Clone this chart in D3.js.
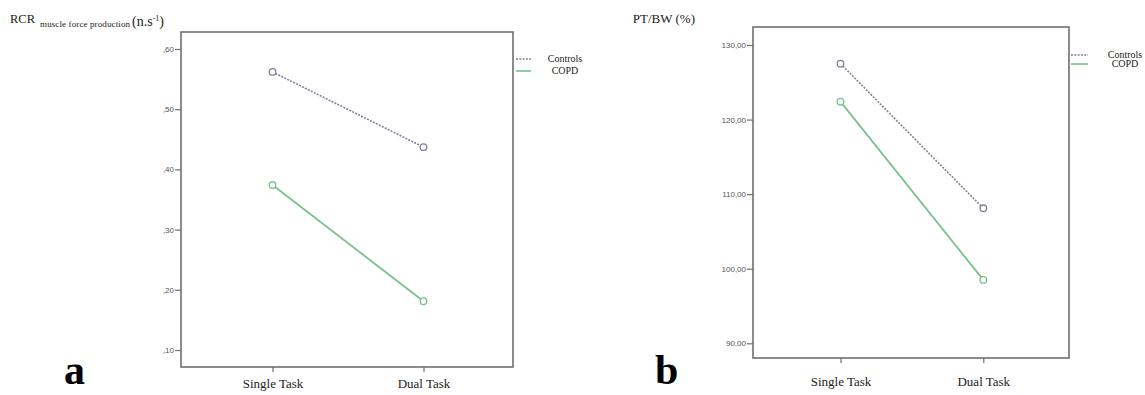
<!DOCTYPE html>
<html>
<head>
<meta charset="utf-8">
<script src="https://cdn.jsdelivr.net/npm/d3@7"></script>
<style>
  html, body { margin: 0; padding: 0; background: #fff; }
  svg { display: block; }
</style>
</head>
<body>
<svg id="chart" width="1145" height="395"></svg>
<script>
// ---------------- data ----------------
const categories = ["Single Task", "Dual Task"];
const seriesNames = ["Controls", "COPD"];

// panel a: RCR muscle force production (n.s-1)
const rcrControls = [0.562, 0.437];
const rcrCOPD = [0.374, 0.181];
const rcrTicks = [0.10, 0.20, 0.30, 0.40, 0.50, 0.60];

// panel b: PT/BW (%)
const ptControls = [127.5, 108.1];
const ptCOPD = [122.4, 98.5];
const ptTicks = [90, 100, 110, 120, 130];

// ---------------- styles ----------------
const serif = "'Liberation Serif', 'DejaVu Serif', serif";
const sans = "'Liberation Sans', Arial, sans-serif";
const frameColor = "#6f6f6f";
const colControls = "#80809a";
const colCOPD = "#7cc08f";

const svg = d3.select("#chart");

function drawPanel(cfg) {
  const g = svg.append("g");
  const x = d3.scalePoint().domain(categories).range(cfg.xRange);
  const y = d3.scaleLinear().domain(cfg.yDomain).range(cfg.yRange);

  // frame
  g.append("rect")
    .attr("x", cfg.frame.left).attr("y", cfg.frame.top)
    .attr("width", cfg.frame.right - cfg.frame.left)
    .attr("height", cfg.frame.bottom - cfg.frame.top)
    .attr("fill", "none").attr("stroke", frameColor).attr("stroke-width", 1.6);

  // y axis
  const yAxis = d3.axisLeft(y).tickValues(cfg.ticks).tickSize(6).tickPadding(1)
    .tickFormat(cfg.fmt);
  const ya = g.append("g").attr("transform", `translate(${cfg.frame.left},0)`).call(yAxis);
  ya.select(".domain").remove();
  ya.selectAll(".tick line").attr("stroke", frameColor).attr("stroke-width", 1.2);
  ya.selectAll(".tick text").attr("fill", "#555").style("font-family", sans)
    .style("font-size", "8px");

  // x axis
  const xAxis = d3.axisBottom(x).tickSize(5).tickPadding(cfg.xPad);
  const xa = g.append("g").attr("transform", `translate(0,${cfg.frame.bottom})`).call(xAxis);
  xa.select(".domain").remove();
  xa.selectAll(".tick line").attr("stroke", frameColor).attr("stroke-width", 1.2);
  xa.selectAll(".tick text").attr("fill", "#222").style("font-family", serif)
    .style("font-size", "13px");

  // series
  const series = [
    { name: seriesNames[0], vals: cfg.controls, color: colControls, dash: "2,1.3" },
    { name: seriesNames[1], vals: cfg.copd, color: colCOPD, dash: null }
  ];
  const line = d3.line().x(d => x(d.c)).y(d => y(d.v));
  series.forEach(s => {
    const pts = categories.map((c, i) => ({ c, v: s.vals[i] }));
    g.append("path").datum(pts)
      .attr("d", line).attr("fill", "none")
      .attr("stroke", s.color).attr("stroke-width", s.dash ? 1.6 : 1.8)
      .attr("stroke-dasharray", s.dash);
    g.selectAll(null).data(pts).enter().append("circle")
      .attr("cx", d => x(d.c)).attr("cy", d => y(d.v)).attr("r", 3.3)
      .attr("fill", "#fff").attr("stroke", s.color).attr("stroke-width", 1.3);
  });

  // legend
  const lg = g.append("g");
  series.forEach((s, i) => {
    const ly = cfg.legend.y[i];
    lg.append("line")
      .attr("x1", cfg.legend.x1).attr("x2", cfg.legend.x2)
      .attr("y1", ly).attr("y2", ly)
      .attr("stroke", s.color).attr("stroke-width", 1.6)
      .attr("stroke-dasharray", s.dash);
    lg.append("text")
      .attr("x", cfg.legend.tx).attr("y", ly + 3)
      .attr("text-anchor", "middle")
      .style("font-family", serif).style("font-size", "10px")
      .attr("fill", "#222").text(s.name);
  });

  // panel letter
  g.append("text").attr("x", cfg.letter.x).attr("y", cfg.letter.y)
    .style("font-family", serif).style("font-size", "42px").style("font-weight", "bold")
    .attr("fill", "#000").text(cfg.letter.text);
  return g;
}

const fmtA = v => d3.format(".2f")(v).replace(/^0\./, ",");
const fmtB = v => d3.format(".2f")(v).replace(".", ",");

const gA = drawPanel({
  frame: { left: 181, right: 513, top: 32, bottom: 367 },
  xRange: [272.5, 423.5],
  yDomain: [0.10, 0.60], yRange: [350, 49],
  ticks: rcrTicks, fmt: fmtA,
  controls: rcrControls, copd: rcrCOPD,
  xPad: 7,
  legend: { x1: 516, x2: 531, y: [59, 71], tx: 565 },
  letter: { x: 64, y: 384, text: "a" }
});

const gB = drawPanel({
  frame: { left: 753, right: 1069, top: 27, bottom: 358 },
  xRange: [840.5, 983.3],
  yDomain: [90, 130], yRange: [343.3, 45],
  ticks: ptTicks, fmt: fmtB,
  controls: ptControls, copd: ptCOPD,
  xPad: 14,
  legend: { x1: 1071, x2: 1088, y: [55, 64], tx: 1125 },
  letter: { x: 655, y: 384, text: "b" }
});

// titles
const tA = svg.append("text").attr("y", 23).attr("fill", "#222").style("font-family", serif);
tA.append("tspan").attr("x", 10).style("font-size", "12.5px").text("RCR");
tA.append("tspan").attr("x", 40).attr("dy", 4).style("font-size", "9px")
  .attr("textLength", 90).text("muscle force production");
tA.append("tspan").attr("x", 132).attr("dy", -1.5).style("font-size", "14px").text("(n.s");
tA.append("tspan").attr("dy", -5).style("font-size", "8px").text("-1");
tA.append("tspan").attr("dy", 5).style("font-size", "14px").text(")");

svg.append("text").attr("x", 695).attr("y", 23).attr("text-anchor", "end")
  .attr("fill", "#222").style("font-family", serif).style("font-size", "13px")
  .text("PT/BW (%)");
</script>
</body>
</html>
